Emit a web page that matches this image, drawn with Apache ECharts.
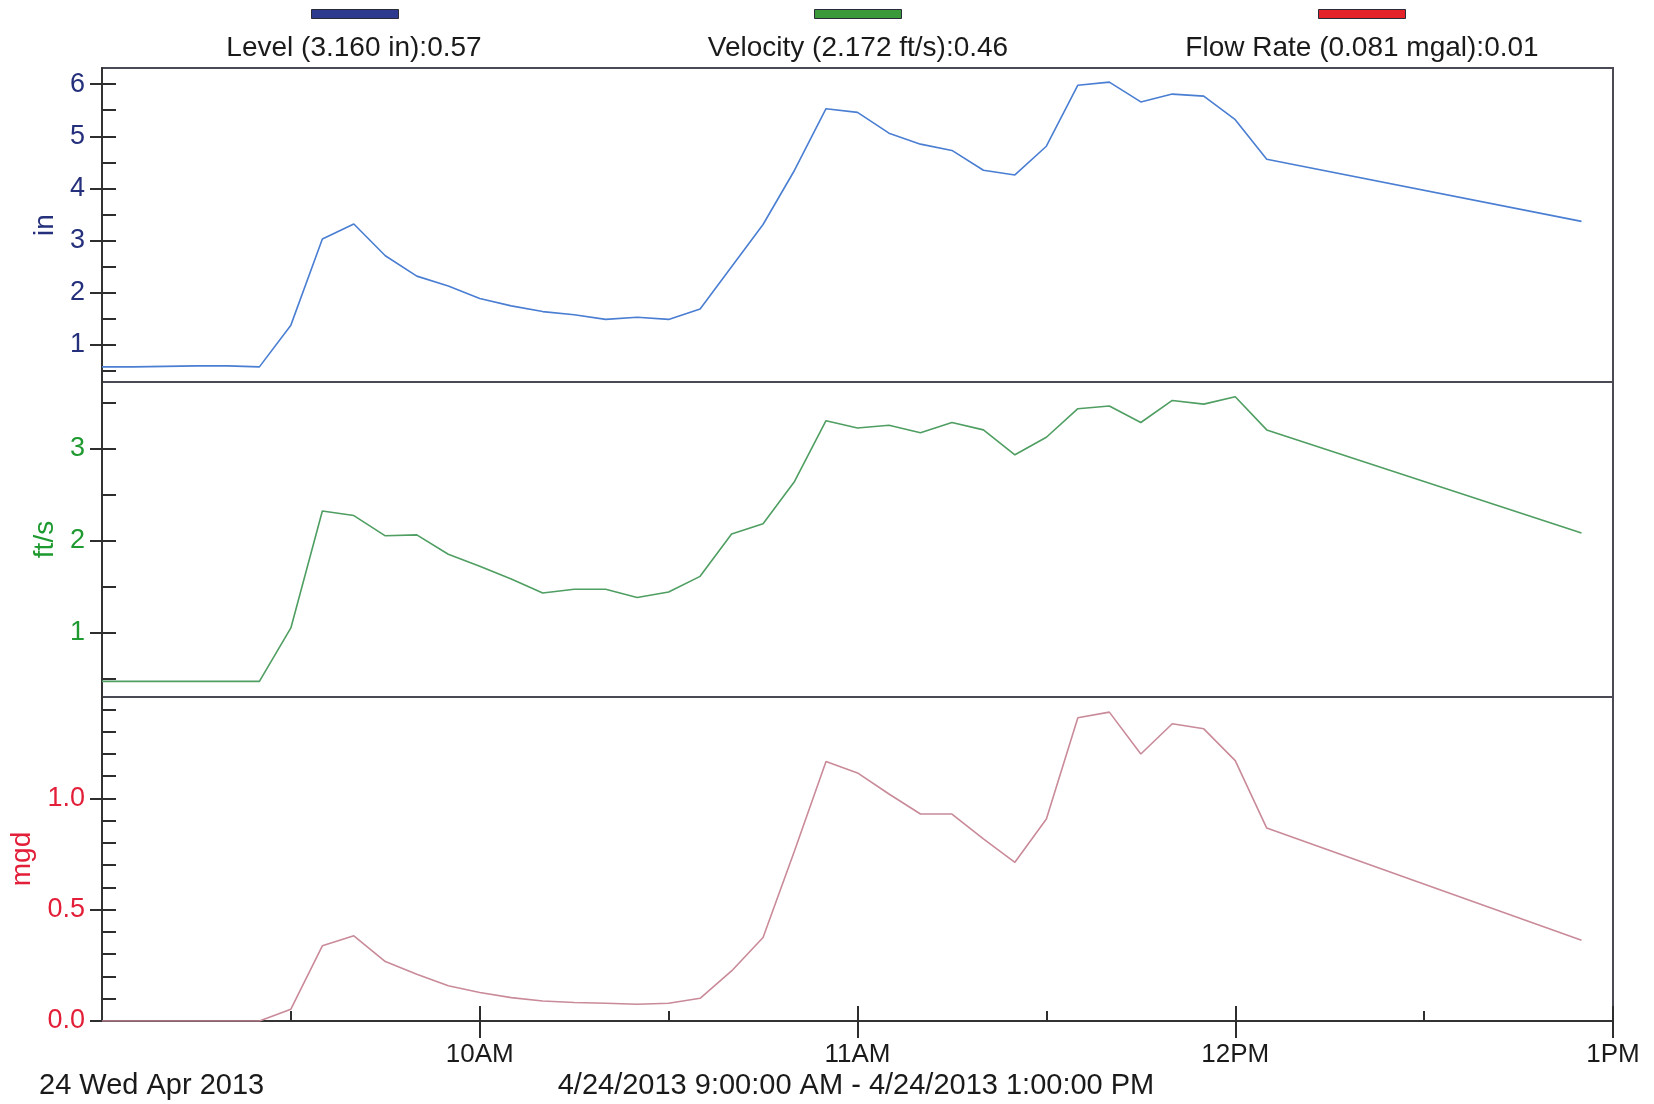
<!DOCTYPE html>
<html><head><meta charset="utf-8">
<script src="https://cdn.jsdelivr.net/npm/echarts@6/dist/echarts.min.js"></script>
<style>html,body{margin:0;padding:0;background:#fff}#c{width:1654px;height:1104px}</style>
</head><body><div id="c"></div>
<script>
// ---- data ----
const times = ['09:00','09:05','09:10','09:15','09:20','09:25','09:30','09:35','09:40','09:45','09:50','09:55',
  '10:00','10:05','10:10','10:15','10:20','10:25','10:30','10:35','10:40','10:45','10:50','10:55',
  '11:00','11:05','11:10','11:15','11:20','11:25','11:30','11:35','11:40','11:45','11:50','11:55',
  '12:00','12:05','12:55'];
const level = [0.58,0.58,0.59,0.60,0.60,0.58,1.38,3.03,3.32,2.71,2.32,2.13,
  1.89,1.75,1.64,1.58,1.49,1.53,1.49,1.69,2.50,3.31,4.35,5.53,
  5.46,5.06,4.85,4.73,4.35,4.26,4.81,5.98,6.04,5.66,5.81,5.77,
  5.32,4.56,3.37];
const velocity = [0.47,0.47,0.47,0.47,0.47,0.47,1.05,2.32,2.27,2.05,2.06,1.85,
  1.72,1.58,1.43,1.47,1.47,1.38,1.44,1.61,2.07,2.18,2.64,3.30,
  3.22,3.25,3.17,3.28,3.20,2.93,3.12,3.43,3.46,3.28,3.52,3.48,
  3.56,3.20,2.08];
const flowRate = [0.00,0.00,0.00,0.00,0.00,0.00,0.053,0.338,0.383,0.267,0.21,0.158,
  0.128,0.105,0.09,0.083,0.08,0.075,0.08,0.102,0.225,0.375,0.765,1.166,
  1.115,1.02,0.93,0.93,0.818,0.713,0.908,1.363,1.388,1.20,1.336,1.313,
  1.17,0.867,0.363];
const xTickTimes = ['10:00','11:00','12:00','13:00'];
const xTickLabels = ['10AM','11AM','12PM','1PM'];
const xMinorTimes = ['09:30','10:30','11:30','12:30'];
const levelTicks = [1,2,3,4,5,6];
const velocityTicks = [1,2,3];
const flowTicks = [0,0.5,1.0];
const legendNames = ['Level (3.160 in):0.57','Velocity (2.172 ft/s):0.46','Flow Rate (0.081 mgal):0.01'];
const axisNames = ['in','ft/s','mgd'];
const dateLabel = '24 Wed Apr 2013';
const rangeLabel = '4/24/2013 9:00:00 AM - 4/24/2013 1:00:00 PM';

// ---- helpers ----
const toMin = t => { const [h,m] = t.split(':').map(Number); return (h-9)*60+m; };
const pairs = vals => times.map((t,i)=>[toMin(t), vals[i]]);
const steps = (step, n) => Array.from({length:n},(_,i)=>+((i+1)*step).toFixed(2));

const FONT = 'Liberation Sans';
const TICK = {color:'#2e2e2e', width:2};
const lineCols = ['#4a7ed2','#4f9e62','#c98a99'];
const labelCols = ['#25307c','#1f9a30','#e31e38'];
const barCols = ['#2e3a8e','#3a9a3a','#e3222a'];

const grids = [
  {left:102, right:41, top:68, height:314},
  {left:102, right:41, top:382, height:315},
  {left:102, right:41, top:697, height:324}
].map(g=>Object.assign(g,{show:true, borderColor:'#4a4a55', borderWidth:2, backgroundColor:'#fff'}));

const ranges = [[0.29,6.31],[0.30,3.72],[0,1.456]];
const majors = [levelTicks, velocityTicks, flowTicks];
const minors = [steps(0.5,12), steps(0.5,7), steps(0.1,14)];
const nameGaps = [37, 37, 60];

const yAxis = [];
for (let g=0; g<3; g++){
  yAxis.push({
    type:'value', gridIndex:g, position:'left', min:ranges[g][0], max:ranges[g][1],
    splitLine:{show:false},
    axisLine:{show:true, lineStyle:{color:'#333', width:2}},
    axisTick:{show:true, inside:false, length:12, lineStyle:TICK, customValues:majors[g]},
    axisLabel:{show:true, customValues:majors[g], margin:17, color:labelCols[g], fontSize:27, fontFamily:FONT,
      formatter: v => g===2 ? Number(v).toFixed(1) : String(v)},
    name:axisNames[g], nameLocation:'middle', nameGap:nameGaps[g],
    nameTextStyle:{color:labelCols[g], fontSize:28, fontFamily:FONT}
  });
  yAxis.push({
    type:'value', gridIndex:g, position:'left', min:ranges[g][0], max:ranges[g][1],
    splitLine:{show:false}, axisLine:{show:false}, axisLabel:{show:false},
    axisTick:{show:true, inside:true, length:14, lineStyle:TICK, customValues:minors[g]}
  });
}

const xBase = {type:'value', min:0, max:240, splitLine:{show:false}};
const xAxis = [
  Object.assign({}, xBase, {gridIndex:0, show:false}),
  Object.assign({}, xBase, {gridIndex:1, show:false}),
  Object.assign({}, xBase, {gridIndex:2, position:'bottom',
    axisLine:{show:true, lineStyle:{color:'#333', width:2}},
    axisTick:{show:true, inside:false, length:17, lineStyle:TICK, customValues:xTickTimes.map(toMin)},
    axisLabel:{show:true, customValues:xTickTimes.map(toMin), margin:21, color:'#1a1a1a', fontSize:26, fontFamily:FONT,
      formatter: v => xTickLabels[xTickTimes.map(toMin).indexOf(v)] || ''}}),
  Object.assign({}, xBase, {gridIndex:2, position:'bottom', axisLine:{show:false}, axisLabel:{show:false},
    axisTick:{show:true, inside:true, length:15, lineStyle:TICK, customValues:xTickTimes.map(toMin)}}),
  Object.assign({}, xBase, {gridIndex:2, position:'bottom', axisLine:{show:false}, axisLabel:{show:false},
    axisTick:{show:true, inside:true, length:10, lineStyle:TICK, customValues:xMinorTimes.map(toMin)}})
];

const seriesVals = [level, velocity, flowRate];
const series = seriesVals.map((vals,g)=>({
  type:'line', xAxisIndex: g===2 ? 2 : g, yAxisIndex: g*2, data: pairs(vals),
  showSymbol:false, animation:false, z:5,
  lineStyle:{color:lineCols[g], width:1.6}
}));

const barX = [311, 814, 1318];
const textX = [354, 858, 1362];
const graphic = [];
for (let i=0;i<3;i++){
  graphic.push({type:'rect', left:barX[i], top:9, shape:{width:87, height:9},
    style:{fill:barCols[i], stroke:'#2a2a3a', lineWidth:1}});
  graphic.push({type:'text', x:textX[i], y:48,
    style:{text:legendNames[i], fill:'#1a1a1a', font:`28px "${FONT}"`, textAlign:'center', textVerticalAlign:'middle'}});
}
graphic.push({type:'text', x:39, y:1086,
  style:{text:dateLabel, fill:'#1a1a1a', font:`29px "${FONT}"`, textAlign:'left', textVerticalAlign:'middle'}});
graphic.push({type:'text', x:856, y:1086,
  style:{text:rangeLabel, fill:'#1a1a1a', font:`29px "${FONT}"`, textAlign:'center', textVerticalAlign:'middle'}});

const chart = echarts.init(document.getElementById('c'), null, {renderer:'canvas'});
chart.setOption({
  backgroundColor:'#fff', animation:false,
  textStyle:{fontFamily:FONT},
  grid:grids, xAxis, yAxis, series, graphic
});
</script>
</body></html>
